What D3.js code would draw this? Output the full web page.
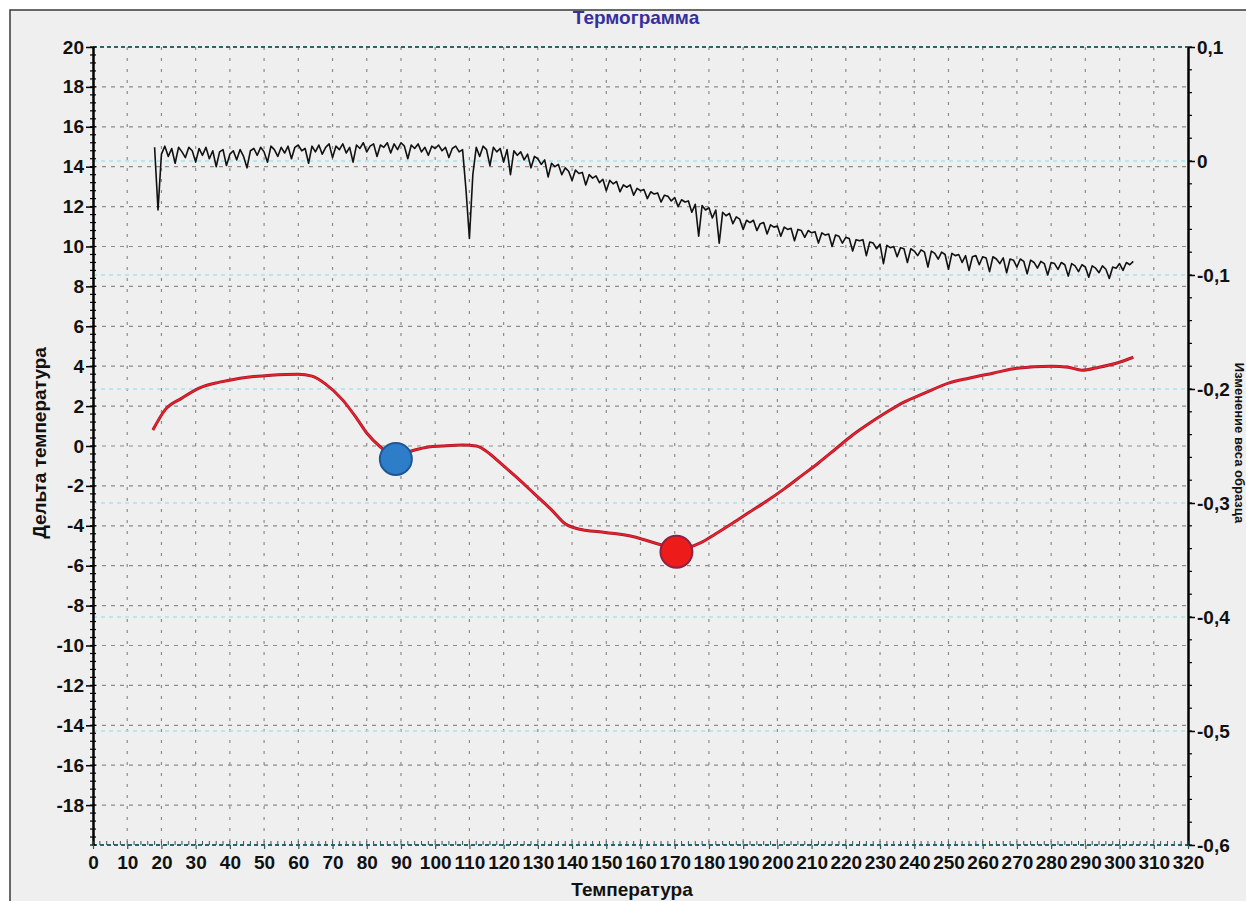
<!DOCTYPE html>
<html>
<head>
<meta charset="utf-8">
<script src="https://cdn.jsdelivr.net/npm/d3@7"></script>
<style>
  body { margin: 0; background: #fff; }
  text { font-family: "Liberation Sans Narrow", "Arial Narrow", "Liberation Sans", sans-serif; font-weight: bold; }
</style>
</head>
<body>
<svg id="chart" width="1246" height="901"></svg>
<script>
// temperature axis ticks and the two value axes
let xTicks = d3.range(0, 321, 10);
let leftTicks = d3.range(-18, 21, 2);
let rightTicks = [0.1, 0, -0.1, -0.2, -0.3, -0.4, -0.5, -0.6];

// DTA curve (Дельта температура)
let dtaTemp = [17.5, 21, 26, 31, 37, 43, 52, 60, 64, 68, 73, 77, 80, 84, 87, 91, 94, 98, 102, 108, 112, 116, 119, 124, 129, 134, 138, 143, 148, 153, 158, 163, 168, 172, 177.5, 182, 187, 192, 197, 202, 207, 212, 217, 222, 227, 232, 237, 243, 250, 256, 263, 270, 280, 285, 289, 294, 299, 304];
let dtaValue = [0.8, 1.8, 2.4, 2.9, 3.2, 3.4, 3.55, 3.6, 3.5, 3.1, 2.3, 1.4, 0.65, -0.05, -0.4, -0.35, -0.2, -0.05, 0.0, 0.05, 0.0, -0.4, -0.85, -1.6, -2.4, -3.2, -3.9, -4.2, -4.3, -4.4, -4.55, -4.8, -5.05, -5.15, -4.86, -4.4, -3.86, -3.3, -2.75, -2.15, -1.5, -0.85, -0.15, 0.55, 1.15, 1.7, 2.2, 2.65, 3.15, 3.4, 3.65, 3.9, 4.0, 3.95, 3.8, 3.95, 4.15, 4.45];

// TG curve (Изменение веса образца), one reading per degree from 18 to 304
let tgStart = 18;
let tgValue = [
  0.012, -0.043, 0.006, 0.013, 0.004, 0.011, -0.002, 0.012, 0.008, 0.003,
  0.012, 0.009, -0.001, 0.011, 0.005, 0.012, 0.002, 0.009, -0.005, 0.008,
  0.010, -0.004, 0.006, 0.009, 0.001, 0.010, 0.004, -0.006, 0.009, 0.011,
  0.005, 0.012, 0.008, -0.001, 0.013, 0.010, 0.004, 0.012, 0.007, 0.013,
  0.002, 0.012, 0.014, 0.009, 0.011, -0.002, 0.013, 0.008, 0.014, 0.006,
  0.012, 0.015, 0.003, 0.013, 0.010, 0.015, 0.007, 0.012, -0.001, 0.014,
  0.011, 0.016, 0.008, 0.013, 0.015, 0.004, 0.014, 0.012, 0.016, 0.007,
  0.015, 0.010, 0.016, 0.013, 0.002, 0.014, 0.011, 0.015, 0.008, 0.012,
  0.005, 0.013, 0.011, 0.014, 0.009, 0.012, 0.003, 0.011, 0.013, 0.008,
  0.010, -0.025, -0.068, -0.012, 0.012, 0.004, 0.013, 0.010, -0.004, 0.012,
  0.008, 0.011, -0.001, 0.010, -0.012, 0.009, 0.005, 0.008, 0.001, 0.006,
  -0.006, 0.004, 0.002, -0.003, 0.001, -0.014, -0.002, -0.005, -0.003, -0.012,
  -0.006, -0.009, -0.017, -0.008, -0.011, -0.010, -0.021, -0.012, -0.015, -0.013,
  -0.019, -0.016, -0.026, -0.017, -0.020, -0.018, -0.027, -0.021, -0.023, -0.021,
  -0.030, -0.024, -0.026, -0.025, -0.033, -0.027, -0.029, -0.028, -0.036, -0.030,
  -0.031, -0.035, -0.032, -0.040, -0.034, -0.036, -0.035, -0.045, -0.038, -0.066,
  -0.039, -0.043, -0.041, -0.050, -0.043, -0.072, -0.045, -0.048, -0.046, -0.055,
  -0.049, -0.051, -0.060, -0.052, -0.054, -0.052, -0.061, -0.055, -0.054, -0.064,
  -0.056, -0.058, -0.057, -0.066, -0.058, -0.060, -0.059, -0.070, -0.060, -0.061,
  -0.067, -0.061, -0.063, -0.062, -0.072, -0.063, -0.065, -0.064, -0.075, -0.065,
  -0.066, -0.072, -0.067, -0.068, -0.079, -0.069, -0.070, -0.069, -0.083, -0.071,
  -0.072, -0.077, -0.073, -0.090, -0.074, -0.076, -0.075, -0.084, -0.076, -0.077,
  -0.089, -0.077, -0.079, -0.083, -0.078, -0.080, -0.093, -0.079, -0.081, -0.086,
  -0.080, -0.082, -0.095, -0.081, -0.083, -0.082, -0.089, -0.083, -0.096, -0.084,
  -0.083, -0.091, -0.084, -0.085, -0.097, -0.084, -0.086, -0.090, -0.085, -0.098,
  -0.086, -0.087, -0.093, -0.086, -0.088, -0.099, -0.087, -0.089, -0.094, -0.088,
  -0.090, -0.100, -0.089, -0.090, -0.095, -0.089, -0.091, -0.101, -0.090, -0.092,
  -0.097, -0.091, -0.093, -0.102, -0.092, -0.094, -0.098, -0.092, -0.095, -0.103,
  -0.093, -0.094, -0.090, -0.096, -0.089, -0.091, -0.088
];

// the two marked points on the DTA curve
let markers = [
  { t: 88.5, v: -0.65, fill: "#2e7dc9", stroke: "#1d5894" },
  { t: 170.5, v: -5.3, fill: "#ee1b1b", stroke: "#8e2145" }
];

let svg = d3.select("#chart");

// frame
svg.append("rect")
  .attr("x", 10).attr("y", 10)
  .attr("width", 1250).attr("height", 900)
  .attr("fill", "#efefef")
  .attr("stroke", "#3a3a3a")
  .attr("stroke-width", 1.5);

let xScale = d3.scaleLinear().domain([0, 320]).range([93, 1188]);
let yLeft = d3.scaleLinear().domain([-20, 20]).range([845, 47]);
let yRight = d3.scaleLinear().domain([-0.6, 0.1]).range([845, 47]);

// grid
let grid = svg.append("g");

grid.selectAll(".vgrid")
  .data(xTicks.filter(d => d > 0 && d < 320))
  .join("line")
  .attr("x1", d => xScale(d)).attr("x2", d => xScale(d))
  .attr("y1", yLeft(20)).attr("y2", yLeft(-20))
  .attr("stroke", "#8c8c8c")
  .attr("stroke-width", 1.2)
  .attr("stroke-dasharray", "3,8");

grid.selectAll(".hgrid")
  .data(leftTicks.filter(d => d < 20))
  .join("line")
  .attr("x1", xScale(0)).attr("x2", xScale(320))
  .attr("y1", d => yLeft(d)).attr("y2", d => yLeft(d))
  .attr("stroke", "#8c8c8c")
  .attr("stroke-width", 1.2)
  .attr("stroke-dasharray", "4,5");

grid.selectAll(".rgrid")
  .data(rightTicks.filter(d => d < 0.1 && d > -0.6))
  .join("line")
  .attr("x1", xScale(0)).attr("x2", xScale(320))
  .attr("y1", d => yRight(d)).attr("y2", d => yRight(d))
  .attr("stroke", "#a9e3ea")
  .attr("stroke-width", 1.6)
  .attr("stroke-dasharray", "4,4");

// top and bottom dotted borders
grid.selectAll(".border")
  .data([20, -20])
  .join("line")
  .attr("x1", xScale(0)).attr("x2", xScale(320))
  .attr("y1", d => yLeft(d)).attr("y2", d => yLeft(d))
  .attr("stroke", "#2d6468")
  .attr("stroke-width", 2)
  .attr("stroke-dasharray", "4,3");

// left axis
let leftAxis = svg.append("g")
  .attr("transform", "translate(" + xScale(0) + ",0)")
  .call(d3.axisLeft(yLeft)
    .tickValues(leftTicks)
    .tickFormat(d => String(d))
    .tickSize(7)
    .tickPadding(2)
    .tickSizeOuter(0));
leftAxis.select(".domain").attr("stroke-width", 2.5);
leftAxis.selectAll(".tick line").attr("stroke-width", 1.5);
leftAxis.selectAll("text").style("font-size", "19px").attr("fill", "#111");

svg.append("g")
  .selectAll("line")
  .data(d3.range(-50, 51).map(d => d * 0.4))
  .join("line")
  .attr("x1", xScale(0) - 3).attr("x2", xScale(0) + 3)
  .attr("y1", d => yLeft(d)).attr("y2", d => yLeft(d))
  .attr("stroke", "#000")
  .attr("stroke-width", 1.2);

// right axis
let rightAxis = svg.append("g")
  .attr("transform", "translate(" + xScale(320) + ",0)")
  .call(d3.axisRight(yRight)
    .tickValues(rightTicks)
    .tickFormat(d => d === 0 ? "0" : d.toFixed(1).replace(".", ","))
    .tickSize(7)
    .tickPadding(2)
    .tickSizeOuter(0));
rightAxis.select(".domain").attr("stroke-width", 2.5);
rightAxis.selectAll(".tick line").attr("stroke-width", 1.5);
rightAxis.selectAll("text").style("font-size", "19px").attr("fill", "#111");

svg.append("g")
  .selectAll("line")
  .data(d3.range(-30, 6).map(d => d * 0.02))
  .join("line")
  .attr("x1", xScale(320)).attr("x2", xScale(320) + 4)
  .attr("y1", d => yRight(d)).attr("y2", d => yRight(d))
  .attr("stroke", "#000")
  .attr("stroke-width", 1.2);

// bottom axis
let bottomAxis = svg.append("g")
  .attr("transform", "translate(0," + yLeft(-20) + ")")
  .call(d3.axisBottom(xScale)
    .tickValues(xTicks)
    .tickFormat(d => String(d))
    .tickSize(4)
    .tickPadding(7)
    .tickSizeOuter(0));
bottomAxis.select(".domain").remove();
bottomAxis.selectAll(".tick line").attr("stroke", "#2d5a5e").attr("stroke-width", 1.2);
bottomAxis.selectAll("text").style("font-size", "19px").attr("fill", "#111");

svg.append("g")
  .selectAll("line")
  .data(d3.range(0, 161).map(d => d * 2))
  .join("line")
  .attr("x1", d => xScale(d)).attr("x2", d => xScale(d))
  .attr("y1", yLeft(-20)).attr("y2", yLeft(-20) - 4)
  .attr("stroke", "#2d5a5e")
  .attr("stroke-width", 1);

// TG curve on the right axis
let tgLine = d3.line()
  .x((d, i) => xScale(tgStart + i))
  .y(d => yRight(d));

svg.append("path")
  .datum(tgValue)
  .attr("d", tgLine)
  .attr("fill", "none")
  .attr("stroke", "#111")
  .attr("stroke-width", 1.6)
  .attr("stroke-linejoin", "round");

// DTA curve on the left axis
let dtaLine = d3.line()
  .x(d => xScale(d[0]))
  .y(d => yLeft(d[1]))
  .curve(d3.curveMonotoneX);

svg.append("path")
  .datum(dtaTemp.map((t, i) => [t, dtaValue[i]]))
  .attr("d", dtaLine)
  .attr("fill", "none")
  .attr("stroke", "#a8152a")
  .attr("stroke-width", 3);

svg.append("path")
  .datum(dtaTemp.map((t, i) => [t, dtaValue[i]]))
  .attr("d", dtaLine)
  .attr("fill", "none")
  .attr("stroke", "#e8232a")
  .attr("stroke-width", 1.6);

svg.selectAll(".marker")
  .data(markers)
  .join("circle")
  .attr("class", "marker")
  .attr("cx", d => xScale(d.t))
  .attr("cy", d => yLeft(d.v))
  .attr("r", 16)
  .attr("fill", d => d.fill)
  .attr("stroke", d => d.stroke)
  .attr("stroke-width", 2);

// titles
svg.append("text")
  .attr("x", 636).attr("y", 24)
  .attr("text-anchor", "middle")
  .style("font-size", "19px")
  .attr("fill", "#35309c")
  .text("Термограмма");

svg.append("text")
  .attr("x", 632).attr("y", 896)
  .attr("text-anchor", "middle")
  .style("font-size", "19px")
  .attr("fill", "#111")
  .text("Температура");

svg.append("text")
  .attr("transform", "translate(46,443) rotate(-90)")
  .attr("text-anchor", "middle")
  .style("font-size", "19px")
  .attr("fill", "#111")
  .text("Дельта температура");

svg.append("text")
  .attr("transform", "translate(1235,443) rotate(90)")
  .attr("text-anchor", "middle")
  .style("font-size", "13px")
  .attr("fill", "#111")
  .text("Изменение веса образца");
</script>
</body>
</html>
